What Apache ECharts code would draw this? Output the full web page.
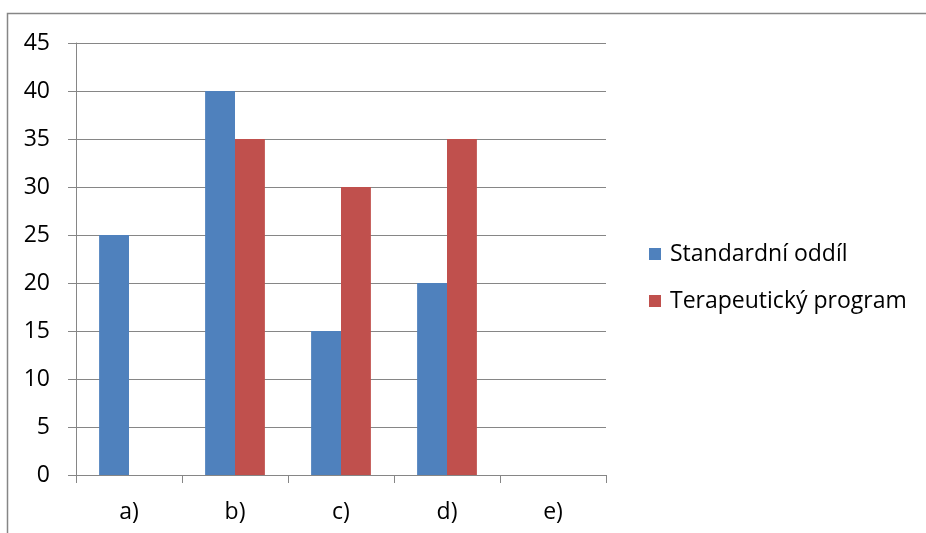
<!DOCTYPE html>
<html><head><meta charset="utf-8">
<script src="https://cdn.jsdelivr.net/npm/echarts@6/dist/echarts.min.js"></script>
<style>html,body{margin:0;padding:0;background:#fff}#c{width:926px;height:533px}</style>
</head><body><div id="c"></div>
<script>
const categories = ['a)', 'b)', 'c)', 'd)', 'e)'];
const standardni = [25, 40, 15, 20, null];
const terapeuticky = [null, 35, 30, 35, null];
const seriesNames = ['Standardní oddíl', 'Terapeutický program'];
const yTicks = {min: 0, max: 45, interval: 5};

const chart = echarts.init(document.getElementById('c'), null, {renderer: 'canvas'});
const font = '"Open Sans", "Noto Sans", sans-serif';
chart.setOption({
  animation: false,
  textStyle: {fontFamily: font},
  graphic: [{type: 'rect', shape: {x: 7.5, y: 13.5, width: 960, height: 600}, style: {fill: 'none', stroke: '#868686', lineWidth: 1.5}, silent: true}],
  grid: {left: 76, right: 320, top: 43, bottom: 58},
  legend: {
    orient: 'vertical', left: 649, top: 242, padding: 0,
    itemWidth: 12, itemHeight: 12, itemGap: 23, icon: 'rect',
    textStyle: {fontFamily: font, fontSize: 23, lineHeight: 24, color: '#000', padding: [0, 0, 0, 4]}
  },
  xAxis: {
    type: 'category', data: categories,
    axisLine: {lineStyle: {color: '#868686', width: 1}},
    axisTick: {show: true, length: 8, lineStyle: {color: '#868686'}},
    axisLabel: {color: '#000', fontSize: 23, margin: 26, fontFamily: font}
  },
  yAxis: {
    type: 'value', min: yTicks.min, max: yTicks.max, interval: yTicks.interval,
    axisLine: {show: true, lineStyle: {color: '#868686'}},
    axisTick: {show: true, length: 8, lineStyle: {color: '#868686'}},
    splitLine: {lineStyle: {color: '#868686', width: 1}},
    axisLabel: {color: '#000', fontSize: 23, margin: 26, fontFamily: font}
  },
  series: [
    {name: seriesNames[0], type: 'bar', data: standardni, barGap: '0%', barCategoryGap: '43.6%', itemStyle: {color: '#4F81BD'}},
    {name: seriesNames[1], type: 'bar', data: terapeuticky, barGap: '0%', barCategoryGap: '43.6%', itemStyle: {color: '#C0504D'}}
  ]
});
</script></body></html>
